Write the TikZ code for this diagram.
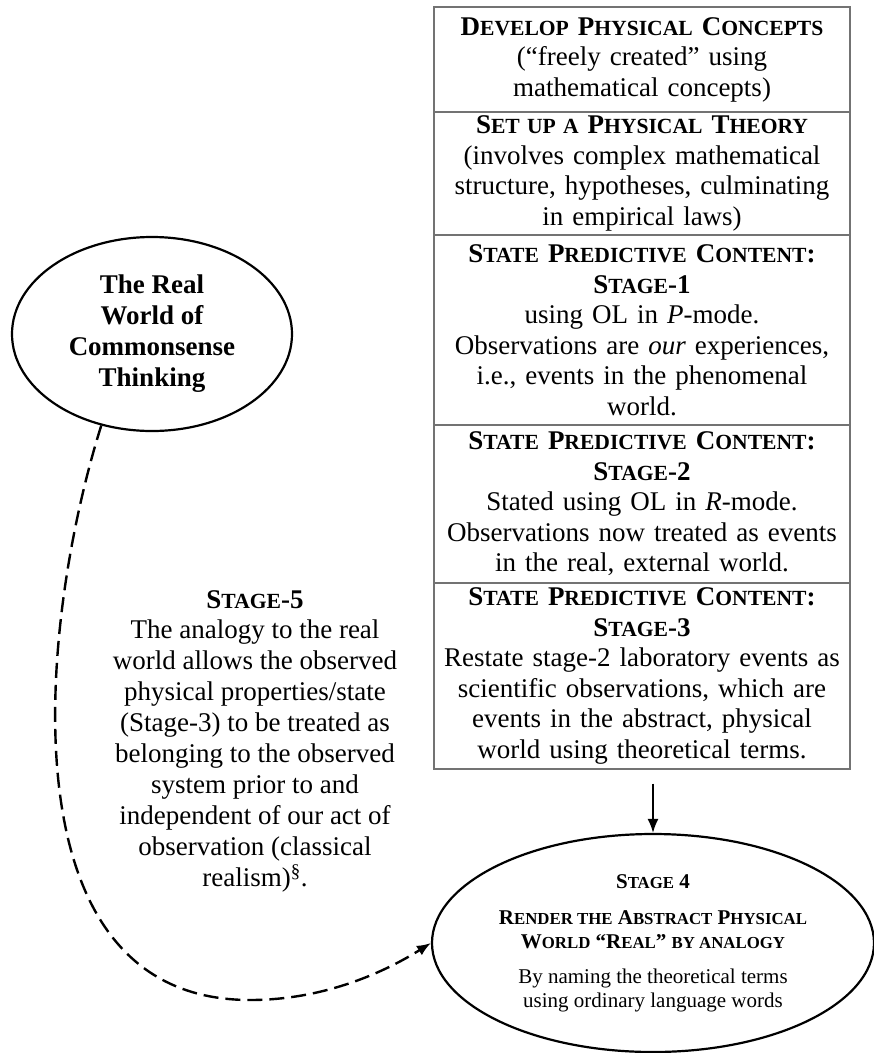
\documentclass[tikz,border=0pt]{standalone}
\usepackage{fontspec}
\setmainfont{Liberation Serif}
\usepackage{graphicx}
\usetikzlibrary{shapes.geometric,arrows.meta}
\newcommand{\lowcap}[1]{\scalebox{0.8}{#1}}
\tikzset{
  stagebox/.style={draw=black!55, line width=1.2pt, rectangle, text width=400pt, inner xsep=8pt, inner ysep=0pt, align=center, font=\fontsize{27}{30.5}\selectfont},
  bubble/.style={draw, line width=2.2pt, ellipse, inner sep=0pt, align=center},
}
\begin{document}
\begin{tikzpicture}[x=1pt, y=-1pt]
            \useasboundingbox (0, 0) rectangle (874, 1053);
            \node[stagebox, minimum height=105pt](1) at (642, 59.5) {\textbf{D\lowcap{EVELOP} P\lowcap{HYSICAL} C\lowcap{ONCEPTS}}\\ (``freely created'' using\\ mathematical concepts)};
            \node[stagebox, minimum height=123pt](2) at (642, 173.5) {\textbf{S\lowcap{ET UP A} P\lowcap{HYSICAL} T\lowcap{HEORY}}\\ (involves complex mathematical\\ structure, hypotheses, culminating\\ in empirical laws)};
            \node[stagebox, minimum height=190pt](3) at (642, 330) {\textbf{S\lowcap{TATE} P\lowcap{REDICTIVE} C\lowcap{ONTENT}:}\\ \textbf{S\lowcap{TAGE}-1}\\ using OL in \textit{P}-mode.\\ Observations are \textit{our} experiences,\\ i.e., events in the phenomenal\\ world.};
            \node[stagebox, minimum height=158pt](4) at (642, 504) {\textbf{S\lowcap{TATE} P\lowcap{REDICTIVE} C\lowcap{ONTENT}:}\\ \textbf{S\lowcap{TAGE}-2}\\ Stated using OL in \textit{R}-mode.\\ Observations now treated as events\\ in the real, external world.};
            \node[stagebox, minimum height=186pt](5) at (642, 676) {\textbf{S\lowcap{TATE} P\lowcap{REDICTIVE} C\lowcap{ONTENT}:}\\ \textbf{S\lowcap{TAGE}-3}\\ Restate stage-2 laboratory events as\\ scientific observations, which are\\ events in the abstract, physical\\ world using theoretical terms.};
            \node[bubble, minimum width=280pt, minimum height=194pt, font=\fontsize{27}{31}\selectfont\bfseries](6) at (152, 334) {The Real\\ World of\\ Commonsense\\ Thinking};
            \node[align=center, font=\fontsize{27}{30.9}\selectfont](7) at (255, 741) {\textbf{S\lowcap{TAGE}-5}\\ The analogy to the real\\ world allows the observed\\ physical properties/state\\ (Stage-3) to be treated as\\ belonging to the observed\\ system prior to and\\ independent of our act of\\ observation (classical\\ realism)\textsuperscript{\S}.};
            \node[bubble, minimum width=442pt, minimum height=218pt, font=\fontsize{21}{24}\selectfont](8) at (653, 943) {\textbf{S\lowcap{TAGE} 4}\\[12pt] \textbf{R\lowcap{ENDER THE} A\lowcap{BSTRACT} P\lowcap{HYSICAL}}\\ \textbf{W\lowcap{ORLD} ``R\lowcap{EAL}'' \lowcap{BY ANALOGY}}\\[11pt] By naming the theoretical terms\\ using ordinary language words};
            \draw[-{Latex[length=14pt, width=11pt]}, line width=1.8pt, shorten <=14pt] (5.south -| 8.north) -- (8.north);
            \draw[-{Latex[length=14pt, width=11pt]}, line width=2.4pt, dash pattern=on 15pt off 7pt] (6.241) .. controls (40, 620) and (0, 1000) .. (250, 1000) .. controls (320, 1000) and (380, 975) .. (8.west);
        \end{tikzpicture}
\end{document}
